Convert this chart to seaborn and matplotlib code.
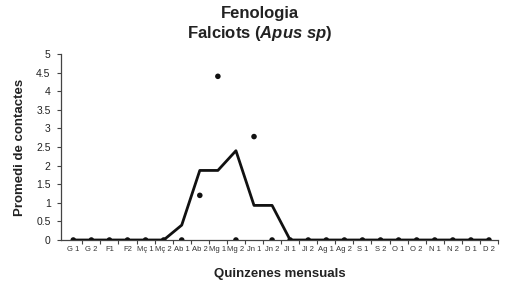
import matplotlib
matplotlib.use("Agg")
import matplotlib.pyplot as plt
import seaborn as sns
import pandas as pd
import numpy as np

categories = ["G 1", "G 2", "F1", "F2", "Mç 1", "Mç 2", "Ab 1", "Ab 2", "Mg 1", "Mg 2",
              "Jn 1", "Jn 2", "Jl 1", "Jl 2", "Ag 1", "Ag 2", "S 1", "S 2", "O 1", "O 2",
              "N 1", "N 2", "D 1", "D 2"]
observed = [0, 0, 0, 0, 0, 0, 0, 1.2, 4.4, 0, 2.78, 0, 0, 0, 0, 0, 0, 0, 0, 0, 0, 0, 0, 0]
smoothed = [0, 0, 0, 0, 0, 0, 0.4, 1.87, 1.87, 2.4, 0.93, 0.93, 0, 0, 0, 0, 0, 0, 0, 0, 0, 0, 0, 0]
y_ticks = [0, 0.5, 1, 1.5, 2, 2.5, 3, 3.5, 4, 4.5, 5]
y_tick_labels = ["0", "0.5", "1", "1.5", "2", "2.5", "3", "3.5", "4", "4.5", "5"]

df = pd.DataFrame({"pos": np.arange(len(categories)), "cat": categories,
                   "observed": observed, "smoothed": smoothed})

sns.set_style("white")
plt.rcParams["font.family"] = ["Liberation Sans", "DejaVu Sans"]
plt.rcParams["mathtext.fontset"] = "custom"
plt.rcParams["mathtext.it"] = "Liberation Sans:italic:bold"
plt.rcParams["mathtext.rm"] = "Liberation Sans:bold"
plt.rcParams["mathtext.bf"] = "Liberation Sans:bold"

fig = plt.figure(figsize=(5.07, 2.84), dpi=100)
ax = fig.add_axes([61 / 507, 1 - 240 / 284, (498 - 61) / 507, (240 - 54) / 284])

sns.lineplot(data=df, x="pos", y="smoothed", ax=ax, color="#111111", linewidth=2.0, zorder=3)
sns.scatterplot(data=df, x="pos", y="observed", ax=ax, color="#111111", s=16,
                edgecolor="none", zorder=4)

ax.set_xlim(-0.68, 23.4)
ax.set_ylim(0, 5)
ax.set_xticks(df["pos"])
ax.set_xticklabels(categories, fontsize=5.5, color="#333333")
ax.set_xticks(np.arange(len(categories)) + 0.5, minor=True)
ax.tick_params(axis="x", which="major", length=0, pad=4)
ax.tick_params(axis="x", which="minor", length=3, width=0.8, color="#444444", direction="out", bottom=True)
ax.set_yticks(y_ticks)
ax.set_yticklabels(y_tick_labels, fontsize=7.5, color="#222222")
ax.tick_params(axis="y", length=3, width=0.8, color="#444444", direction="out", left=True, pad=4.5)

for s in ["top", "right"]:
    ax.spines[s].set_visible(False)
for s in ["left", "bottom"]:
    ax.spines[s].set_color("#444444")
    ax.spines[s].set_linewidth(0.9)

ax.set_xlabel("Quinzenes mensuals", fontsize=9.5, fontweight="bold", color="#222222", labelpad=11)
ax.set_ylabel("Promedi de contactes", fontsize=9.5, fontweight="bold", color="#222222", labelpad=7)

fig.text(0.513, 0.953, "Fenologia", ha="center", va="center", fontsize=12, fontweight="bold", color="#222222")
fig.text(0.513, 0.883, r"Falciots ($\mathit{Apus\ sp}$)", ha="center", va="center", fontsize=12,
         fontweight="bold", color="#222222")

fig.savefig("out.png", dpi=100)
